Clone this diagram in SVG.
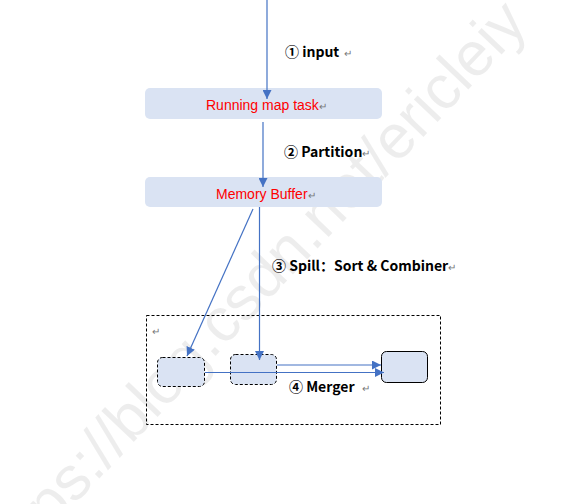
<svg xmlns="http://www.w3.org/2000/svg" width="573" height="504" viewBox="0 0 573 504">
<style>
.node{fill:#dae3f3}
.title{font-family:"Liberation Sans",Arial,sans-serif;font-size:14px;fill:#ff0000}
.lbl{font-family:"Noto Sans CJK SC","Liberation Sans",sans-serif;font-size:14px;font-weight:bold;fill:#000}
.ret{font-family:"Noto Sans CJK SC","Liberation Sans",sans-serif;font-size:10px;fill:#777;font-weight:normal}
.conn{stroke:#4472c4;stroke-width:1.2;fill:none}
.dash{stroke:#000;stroke-width:1;stroke-dasharray:3,2;fill:#dae3f3}
.wm{font-family:"Liberation Sans",sans-serif;font-size:62px;fill:#000;fill-opacity:0.07}
</style>
<defs>
<marker id="ah" viewBox="0 0 10 10" refX="10" refY="5" markerWidth="9" markerHeight="9" markerUnits="userSpaceOnUse" orient="auto">
<path d="M0,0 L10,5 L0,10 z" fill="#4472c4"/>
</marker>
</defs>
<rect width="573" height="504" fill="#fff"/>
<text class="wm" transform="translate(3,580) rotate(-46.5)">https://blog.csdn.net/ericleiy</text>
<g id="outer">
<rect x="146.5" y="315.5" width="294" height="109" fill="none" stroke="#000" stroke-width="1" stroke-dasharray="3,2"/>
<text class="ret" x="152" y="335">↵</text>
</g>
<g id="running">
<rect class="node" x="145" y="88" width="237" height="31" rx="5"/>
<text class="title" x="206" y="110">Running map task<tspan class="ret">↵</tspan></text>
</g>
<g id="memory">
<rect class="node" x="145" y="177" width="237" height="30" rx="5"/>
<text class="title" x="216" y="199">Memory Buffer<tspan class="ret">↵</tspan></text>
</g>
<g id="spillA">
<rect class="dash" x="157.5" y="357.5" width="47" height="29" rx="5"/>
</g>
<g id="spillB">
<rect class="dash" x="230.5" y="354.5" width="46" height="30" rx="5"/>
</g>
<g id="merged">
<rect x="381.5" y="351.5" width="46" height="31" rx="5" fill="#dae3f3" stroke="#000" stroke-width="1"/>
</g>
<g id="connectors">
<line class="conn" x1="267" y1="0" x2="267" y2="99" marker-end="url(#ah)"/>
<line class="conn" x1="263" y1="122" x2="263" y2="187" marker-end="url(#ah)"/>
<line class="conn" x1="253" y1="209" x2="187" y2="356" marker-end="url(#ah)"/>
<line class="conn" x1="259.5" y1="207" x2="259.5" y2="360" marker-end="url(#ah)"/>
<line class="conn" x1="277" y1="365" x2="381" y2="365" marker-end="url(#ah)"/>
<line class="conn" x1="205" y1="372.5" x2="384" y2="372.5" marker-end="url(#ah)"/>
</g>
<g id="labels">
<text class="lbl" x="285" y="57">① input <tspan class="ret" dx="2">↵</tspan></text>
<text class="lbl" x="284" y="157">② Partition<tspan class="ret">↵</tspan></text>
<text class="lbl" x="272" y="271">③ Spill：Sort &amp; Combiner<tspan class="ret">↵</tspan></text>
<text class="lbl" x="289" y="392">④ Merger <tspan class="ret" dx="4">↵</tspan></text>
</g>
</svg>
